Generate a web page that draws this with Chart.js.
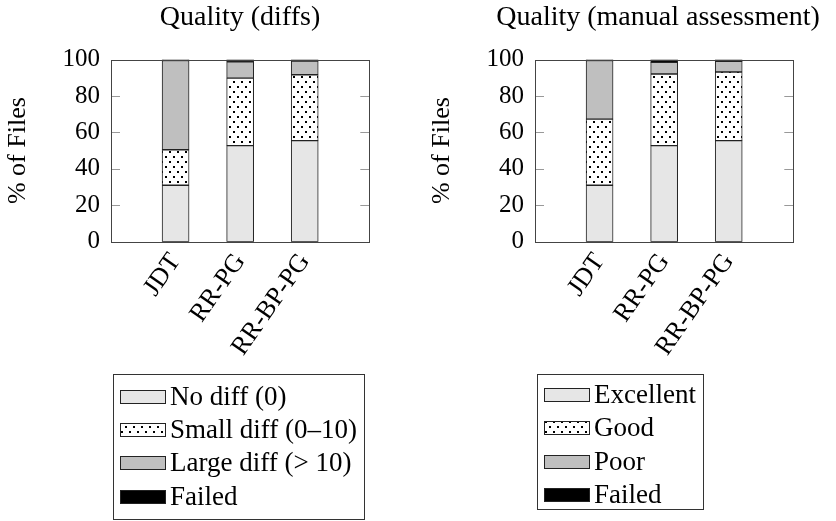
<!DOCTYPE html>
<html>
<head>
<meta charset="utf-8">
<script src="https://cdn.jsdelivr.net/npm/chart.js@4.4.1/dist/chart.umd.min.js"></script>
<style>
    html, body { margin: 0; padding: 0; background: #fff; overflow: hidden; }
    #wrap { position: relative; width: 836px; height: 521px; overflow: hidden; }
    canvas { position: absolute; top: 0; }
</style>
</head>
<body>
<div id="wrap">
    <canvas id="diffsChart" width="480" height="521" style="left:0"></canvas>
    <canvas id="manualChart" width="468" height="521" style="left:424px"></canvas>
</div>
<script>
'use strict';

// categories and tick labels
const categories = ['JDT', 'RR-PG', 'RR-BP-PG'];
const yTicks = [0, 20, 40, 60, 80, 100];

// left chart: Quality (diffs)
const diffLabels = ['No diff (0)', 'Small diff (0–10)', 'Large diff (> 10)', 'Failed'];
const noDiff = [31, 52.8, 55.5];
const smallDiff = [19.5, 37, 36.2];
const largeDiff = [49, 9, 7.5];
const diffFailed = [0.5, 1.2, 0.8];

// right chart: Quality (manual assessment)
const manualLabels = ['Excellent', 'Good', 'Poor', 'Failed'];
const excellent = [31, 52.8, 55.5];
const good = [36.3, 39.3, 37.7];
const poor = [32.2, 6.4, 5.8];
const manualFailed = [0.5, 1.5, 1.0];

const serif = "'Liberation Serif', 'Times New Roman', serif";
Chart.defaults.font.family = serif;
Chart.defaults.color = '#000';

function dotPattern(ctx) {
    const tile = document.createElement('canvas');
    tile.width = 8;
    tile.height = 10;
    const t = tile.getContext('2d');
    t.fillStyle = '#fff';
    t.fillRect(0, 0, 8, 10);
    t.fillStyle = '#000';
    t.fillRect(1, 1, 2, 2);
    t.fillRect(5, 6, 2, 2);
    return ctx.createPattern(tile, 'repeat');
}

// plot frame + inner y ticks on both sides
const framePlugin = {
    id: 'frame',
    afterDatasetsDraw(chart) {
        const { ctx, chartArea: a } = chart;
        const y = chart.scales.y;
        ctx.save();
        ctx.lineWidth = 1;
        ctx.strokeStyle = '#999';
        yTicks.forEach(v => {
            const py = Math.round(y.getPixelForValue(v)) + 0.5;
            ctx.beginPath();
            ctx.moveTo(a.left, py);
            ctx.lineTo(a.left + 9, py);
            ctx.moveTo(a.right - 9, py);
            ctx.lineTo(a.right, py);
            ctx.stroke();
        });
        ctx.strokeStyle = '#444';
        ctx.strokeRect(Math.round(a.left) + 0.5, Math.round(a.top) + 0.5,
            Math.round(a.right - a.left), Math.round(a.bottom - a.top));
        ctx.restore();
    }
};

// boxed legend under the plot
const boxLegend = {
    id: 'boxLegend',
    afterDraw(chart, args, opts) {
        const { ctx, chartArea: a } = chart;
        const sets = chart.data.datasets;
        ctx.save();
        ctx.font = '27px ' + serif;
        const textW = Math.max(...sets.map(d => ctx.measureText(d.label).width));
        const x = Math.round(a.left) + 2;
        const y = opts.top;
        const w = Math.round(7 + 46 + 4 + textW + 7);
        ctx.fillStyle = '#fff';
        ctx.fillRect(x, y, w, opts.height);
        ctx.strokeStyle = '#333';
        ctx.lineWidth = 1;
        ctx.strokeRect(x + 0.5, y + 0.5, w, opts.height);
        sets.forEach((d, i) => {
            const cy = Math.round(y + opts.first + i * 33.3);
            ctx.fillStyle = d.backgroundColor;
            ctx.fillRect(x + 7, cy - 7, 46, 14);
            ctx.strokeStyle = '#222';
            ctx.strokeRect(x + 7.5, cy - 6.5, 45, 13);
            ctx.fillStyle = '#000';
            ctx.textBaseline = 'middle';
            ctx.fillText(d.label, x + 7 + 46 + 4, cy + 1);
        });
        ctx.restore();
    }
};

function makeChart(id, title, labels, series, legendOpts) {
    const canvas = document.getElementById(id);
    const ctx = canvas.getContext('2d');
    const fills = ['#e6e6e6', dotPattern(ctx), '#bfbfbf', '#000'];

    return new Chart(ctx, {
        type: 'bar',
        data: {
            labels: categories.map((c, i) => i),
            datasets: labels.map((label, i) => ({
                label: label,
                data: series[i],
                backgroundColor: fills[i],
                borderColor: '#222',
                borderWidth: 1,
                borderSkipped: false,
                barThickness: 27
            }))
        },
        options: {
            responsive: false,
            animation: false,
            layout: { padding: 0 },
            plugins: {
                legend: { display: false },
                tooltip: { enabled: false },
                title: {
                    display: true,
                    text: title,
                    color: '#000',
                    font: { size: 28, weight: 'normal' },
                    padding: { top: 1, bottom: 25 }
                },
                boxLegend: legendOpts
            },
            scales: {
                x: {
                    type: 'linear',
                    stacked: true,
                    offset: false,
                    min: -1,
                    max: 3,
                    grid: { display: false, drawTicks: false, offset: false },
                    border: { display: false },
                    afterBuildTicks: s => { s.ticks = categories.map((c, i) => ({ value: i })); },
                    ticks: {
                        autoSkip: false,
                        minRotation: 55,
                        maxRotation: 55,
                        padding: 6,
                        font: { size: 26 },
                        callback: v => categories[v]
                    },
                    afterFit: s => { s.height = 521 - 241.7; }
                },
                y: {
                    stacked: true,
                    min: 0,
                    max: 100,
                    grid: { display: false, drawTicks: false },
                    border: { display: false },
                    afterBuildTicks: s => { s.ticks = yTicks.map(v => ({ value: v })); },
                    ticks: { padding: 11, font: { size: 25 } },
                    title: {
                        display: true,
                        text: '% of Files',
                        font: { size: 26 },
                        padding: { top: 3, bottom: 0 }
                    },
                    afterFit: s => { s.width = 111; }
                },
                pad: {
                    type: 'linear',
                    position: 'right',
                    grid: { display: false, drawTicks: false },
                    border: { display: false },
                    ticks: { display: false },
                    afterFit: s => { s.width = canvas.width - 369.3; }
                }
            }
        },
        plugins: [framePlugin, boxLegend]
    });
}

makeChart('diffsChart', 'Quality (diffs)', diffLabels,
    [noDiff, smallDiff, largeDiff, diffFailed], { top: 374, height: 145, first: 22.7 });
makeChart('manualChart', 'Quality (manual assessment)', manualLabels,
    [excellent, good, poor, manualFailed], { top: 374, height: 135, first: 21 });
</script>
</body>
</html>
